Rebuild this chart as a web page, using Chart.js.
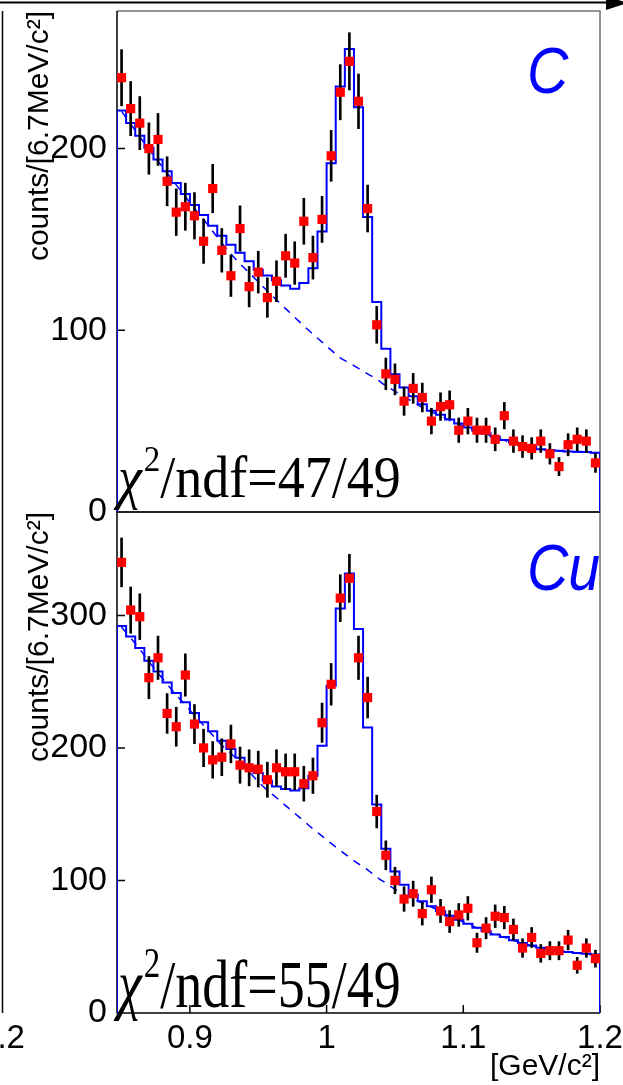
<!DOCTYPE html>
<html>
<head>
<meta charset="utf-8">
<title>K+K- invariant mass, C and Cu targets</title>
<script src="https://cdn.jsdelivr.net/npm/chart.js@4.4.1/dist/chart.umd.min.js"></script>
<style>
    html, body { margin: 0; padding: 0; background: #fff; }
    #wrap { position: relative; width: 623px; height: 1085px; }
</style>
</head>
<body>
<div id="wrap"><canvas id="massChart" width="623" height="1085"></canvas></div>
<script>
// 53 bins of 6.67 MeV/c^2 from 0.8467 to 1.2 GeV/c^2
var binLow = 0.84667;
var binWidth = 0.0066667;
var massMax = 1.2;

var xTickValues = [0.9, 1.0, 1.1, 1.2];
var yTicksC = [0, 100, 200];
var yTicksCu = [0, 100, 200, 300];

var targetNames = ['C', 'Cu'];
var chi2Values = ['47/49', '55/49'];

// carbon target
var countsC = [239, 222, 214, 200, 205, 182, 165, 168, 163, 149,
               178, 144, 130, 156, 124, 132, 118, 127, 141, 137,
               160, 140, 161, 196, 231, 248, 226, 167, 103, 76,
               73, 61, 68, 63, 50, 58, 59, 45, 50, 45,
               45, 40, 53, 39, 36, 35, 39, 32, 25, 37,
               40, 39, 27];
var fitC = [221, 214, 207, 200.5, 194, 187.5, 181, 175, 169, 163.5,
            157.5, 152, 147, 142.7, 138, 133.3, 130.2, 127.5, 124.7, 122.9,
            126, 134.2, 154.4, 191.9, 234.2, 254.8, 222.7, 162.3, 115.6, 89.9,
            75.8, 68.5, 63.7, 59.3, 55.7, 53.5, 50.9, 48.7, 46.5, 44.7,
            43.2, 41.4, 39.6, 38.3, 36.8, 35.9, 34.6, 34.1, 33.7, 33.3,
            33.1, 33, 32.6];
var bkgC = [220.5, 213.5, 206.5, 199.5, 193, 186.5, 180, 173.5, 167, 161,
            154.5, 148, 142, 136.6, 131.6, 126.6, 121.6, 116.7, 111.9, 107.2,
            102.4, 97.9, 93.5, 89.1, 84.8, 82, 79, 76, 73, 69.5,
            66.5, 63.5, 60.5, 57.5, 55, 53, 50.5, 48.3, 46.2, 44.4,
            42.9, 41.2, 39.4, 38.1, 36.7, 35.8, 34.5, 34, 33.6, 33.2,
            33, 32.9, 32.5];

// copper target
var countsCu = [340, 304, 299, 253, 268, 226, 216, 255, 218, 200,
                191, 193, 203, 187, 185, 184, 176, 185, 182, 182,
                173, 179, 219, 248, 313, 328, 268, 238, 152, 119,
                100, 86, 90, 75, 93, 77, 69, 74, 79, 53,
                64, 73, 72, 63, 49, 57, 45, 47, 47, 55,
                36, 49, 41];
var fitCu = [292, 284, 275.3, 265.8, 257.7, 249.4, 241.4, 234.4, 226.4, 219.3,
             212.5, 205.5, 199.2, 192.5, 185.5, 181, 175.3, 170.8, 169.1, 167.8,
             169.6, 179, 201.7, 247, 305.2, 331.6, 289.7, 215.5, 157.3, 123.9,
             106.8, 96.8, 89.5, 84.4, 80.6, 76.9, 73.4, 70.4, 67.4, 64.4,
             61.8, 59.3, 57.3, 54.8, 52.8, 51, 49.3, 48, 46.7, 46,
             45.2, 44.7, 44.2];
var bkgCu = [291, 283, 274.5, 265, 256.5, 248, 240, 232.5, 224.5, 217,
             209.5, 202, 196, 189, 182, 174.5, 168, 162.4, 156.5, 150.7,
             144.8, 139, 133.5, 128, 122.7, 117.5, 112.5, 108, 102.5, 98,
             93.5, 89.5, 86, 83, 80, 76.6, 73.2, 70.2, 67.2, 64.2,
             61.6, 59.1, 57.1, 54.6, 52.6, 50.8, 49.1, 47.8, 46.5, 45.8,
             45, 44.5, 44];

var sansFont = '"Liberation Sans", Arial, Helvetica, sans-serif';
var serifFont = '"Liberation Serif", "Times New Roman", serif';

function binCenter(i) {
    return binLow + (i + 0.5) * binWidth;
}

function centerPoints(values) {
    return values.map(function(v, i) { return {x: binCenter(i), y: v}; });
}

// Poisson errors on the counts
function errorBars(values) {
    return values.map(function(v, i) {
        var e = Math.sqrt(v);
        return {x: binCenter(i), y: [v - e, v + e]};
    });
}

// histogram outline: left edge up from zero, one step per bin, right edge down
function histOutline(values) {
    var pts = [{x: binLow, y: 0}];
    values.forEach(function(v, i) {
        pts.push({x: binLow + i * binWidth, y: v});
    });
    pts.push({x: massMax, y: values[values.length - 1]});
    pts.push({x: massMax, y: 0});
    return pts;
}

function panelDatasets(counts, fit, bkg, axisId) {
    return [
        {
            type: 'line', data: centerPoints(counts), yAxisID: axisId,
            showLine: false, pointStyle: 'rect', pointRadius: 6.5,
            pointBackgroundColor: '#ff0000', pointBorderWidth: 0, order: 0
        },
        {
            type: 'bar', data: errorBars(counts), yAxisID: axisId,
            backgroundColor: '#000000', barThickness: 2, grouped: false, order: 1
        },
        {
            type: 'line', data: histOutline(fit), yAxisID: axisId,
            stepped: true, borderColor: '#0000ff', borderWidth: 2,
            pointRadius: 0, fill: false, order: 2
        },
        {
            type: 'line', data: centerPoints(bkg), yAxisID: axisId,
            borderColor: '#0000ff', borderWidth: 1.5, borderDash: [8, 7],
            cubicInterpolationMode: 'monotone', pointRadius: 0, fill: false, order: 3
        }
    ];
}

function yAxis(maxValue, tickValues, weight) {
    return {
        type: 'linear',
        position: 'left',
        stack: 'panels',
        stackWeight: 1,
        weight: weight,
        min: 0,
        max: maxValue,
        offset: false,
        grid: { display: false, drawTicks: false },
        border: { display: false },
        ticks: {
            color: '#000', padding: 10, autoSkip: false,
            font: { family: sansFont, size: 34 }
        },
        title: {
            display: true, text: 'counts/[6.7MeV/c²]', align: 'end', color: '#000',
            font: { family: sansFont, size: 30 }, padding: { top: 22, bottom: 0 }
        },
        afterBuildTicks: function(scale) {
            scale.ticks = tickValues.map(function(v) { return {value: v}; });
        },
        afterFit: function(scale) {
            scale.width = 117;
            scale.paddingTop = 0;
            scale.paddingBottom = 0;
        }
    };
}

function drawChi2(ctx, left, baseline, text, stretch) {
    ctx.save();
    ctx.translate(left, baseline);
    ctx.scale(1, stretch);
    ctx.fillStyle = '#000';
    ctx.textBaseline = 'alphabetic';
    ctx.textAlign = 'left';
    ctx.font = 'italic 54px ' + serifFont;
    ctx.fillText('χ', 0, 0);
    var x = ctx.measureText('χ').width + 2;
    ctx.font = '33px ' + serifFont;
    ctx.fillText('2', x, -24);
    x += ctx.measureText('2').width;
    ctx.font = '54px ' + serifFont;
    ctx.fillText('/ndf=' + text, x, 0);
    ctx.restore();
}

var panelDecor = {
    id: 'panelDecor',
    beforeDatasetsDraw: function(chart) {
        var ctx = chart.ctx;
        var xs = chart.scales.x;
        var panels = [chart.scales.yC, chart.scales.yCu];
        ctx.save();
        ctx.lineWidth = 1.5;
        ctx.strokeStyle = '#707070';
        panels.forEach(function(ys) {
            ctx.beginPath();
            ctx.moveTo(xs.left, ys.top);
            ctx.lineTo(xs.right, ys.top);
            ctx.lineTo(xs.right, ys.bottom);
            ctx.stroke();
        });
        ctx.strokeStyle = '#000';
        panels.forEach(function(ys, k) {
            ctx.beginPath();
            ctx.moveTo(xs.left, ys.top);
            ctx.lineTo(xs.left, ys.bottom);
            ctx.lineTo(xs.right, ys.bottom);
            ys.ticks.forEach(function(t) {
                var py = ys.getPixelForValue(t.value);
                ctx.moveTo(xs.left, py);
                ctx.lineTo(xs.left + 8, py);
            });
            if (k === 1) {
                xs.ticks.forEach(function(t) {
                    var px = xs.getPixelForValue(t.value);
                    ctx.moveTo(px, ys.bottom);
                    ctx.lineTo(px, ys.bottom - 8);
                });
            }
            ctx.stroke();
        });
        ctx.restore();
    },
    afterDraw: function(chart) {
        var ctx = chart.ctx;
        var xs = chart.scales.x;
        var panels = [chart.scales.yC, chart.scales.yCu];
        var stretch = [1.08, 1.26];
        var chiLift = [15, 6];
        var nameLift = [82, 78];

        panels.forEach(function(ys, k) {
            ctx.save();
            ctx.beginPath();
            ctx.rect(xs.left, ys.top, xs.right - xs.left, ys.bottom - ys.top);
            ctx.clip();
            ctx.save();
            ctx.translate(xs.right - 73, ys.top + nameLift[k]);
            ctx.scale(0.88, 1);
            ctx.fillStyle = '#0000ff';
            ctx.font = 'italic 65px ' + sansFont;
            ctx.textBaseline = 'alphabetic';
            ctx.fillText(targetNames[k], 0, 0);
            ctx.restore();
            ctx.restore();
            drawChi2(ctx, xs.left + 1, ys.bottom - chiLift[k], chi2Values[k], stretch[k]);
        });

        // neighbouring pad edge and its last tick label
        ctx.save();
        ctx.strokeStyle = '#000';
        ctx.lineWidth = 1.5;
        ctx.beginPath();
        ctx.moveTo(2.5, panels[0].top);
        ctx.lineTo(2.5, panels[1].bottom);
        ctx.stroke();
        ctx.fillStyle = '#000';
        ctx.font = '33px ' + sansFont;
        ctx.textAlign = 'center';
        ctx.textBaseline = 'middle';
        ctx.fillText('1.2', 2, panels[1].bottom + 26);

        // arrow along the top edge
        ctx.lineWidth = 2;
        ctx.beginPath();
        ctx.moveTo(0, 2.5);
        ctx.lineTo(610, 2.5);
        ctx.stroke();
        ctx.beginPath();
        ctx.moveTo(606, -4);
        ctx.lineTo(628, 3);
        ctx.lineTo(606, 10);
        ctx.closePath();
        ctx.fill();
        ctx.restore();
    }
};

var ctx = document.getElementById('massChart').getContext('2d');
var massChart = new Chart(ctx, {
    type: 'line',
    data: {
        datasets: panelDatasets(countsC, fitC, bkgC, 'yC')
            .concat(panelDatasets(countsCu, fitCu, bkgCu, 'yCu'))
    },
    options: {
        responsive: false,
        animation: false,
        devicePixelRatio: 1,
        events: [],
        layout: {
            autoPadding: false,
            padding: { top: 11, right: 23, bottom: 0, left: 0 }
        },
        plugins: {
            legend: { display: false },
            tooltip: { enabled: false }
        },
        scales: {
            x: {
                type: 'linear',
                min: binLow,
                max: massMax,
                offset: false,
                grid: { display: false, drawTicks: false },
                border: { display: false },
                ticks: {
                    color: '#000', padding: 6, autoSkip: false, maxRotation: 0,
                    font: { family: sansFont, size: 33 },
                    callback: function(v) { return String(Math.round(v * 10) / 10); }
                },
                title: {
                    display: true, text: '[GeV/c²]', align: 'end', color: '#000',
                    font: { family: sansFont, size: 30 }, padding: { top: 0, bottom: 0 }
                },
                afterBuildTicks: function(scale) {
                    scale.ticks = xTickValues.map(function(v) { return {value: v}; });
                },
                afterFit: function(scale) {
                    scale.height = 72;
                    scale.paddingLeft = 0;
                    scale.paddingRight = 0;
                }
            },
            yC: yAxis(275.7, yTicksC, 1),
            yCu: yAxis(378, yTicksCu, 0)
        }
    },
    plugins: [panelDecor]
});
</script>
</body>
</html>
